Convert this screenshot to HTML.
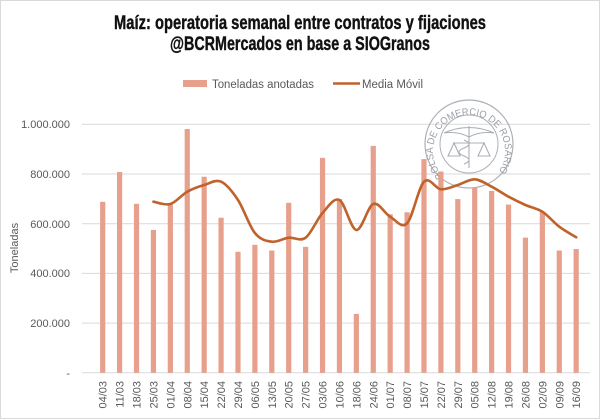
<!DOCTYPE html>
<html><head><meta charset="utf-8"><style>
html,body{margin:0;padding:0;background:#fff}
svg{display:block;font-family:"Liberation Sans",sans-serif}
</style></head><body>
<svg id="s" width="600" height="419" viewBox="0 0 600 419" xmlns="http://www.w3.org/2000/svg">
<rect x="0.5" y="0.5" width="599" height="418" fill="#fff" stroke="#d9d9d9"/>
<text x="300" y="29" text-anchor="middle" font-family="'Liberation Sans Narrow','Liberation Sans',sans-serif" font-weight="bold" font-size="19" textLength="372" lengthAdjust="spacingAndGlyphs" fill="#111" stroke="#111" stroke-width="0.4">Maíz: operatoria semanal entre contratos y fijaciones</text>
<text x="300" y="50" text-anchor="middle" font-family="'Liberation Sans Narrow','Liberation Sans',sans-serif" font-weight="bold" font-size="19" textLength="260" lengthAdjust="spacingAndGlyphs" fill="#111" stroke="#111" stroke-width="0.4">@BCRMercados en base a SIOGranos</text>
<rect x="183" y="80" width="24" height="7" fill="#e6a08b"/>
<text x="212" y="88" font-size="11.5" fill="#595959" textLength="102" lengthAdjust="spacingAndGlyphs">Toneladas anotadas</text>
<line x1="333" y1="83.5" x2="360" y2="83.5" stroke="#c0622b" stroke-width="2.5"/>
<text x="362" y="88" font-size="11.5" fill="#595959" textLength="61" lengthAdjust="spacingAndGlyphs">Media Móvil</text>
<g stroke="#d9d9d9" stroke-width="1">
<line x1="82" y1="124.3" x2="590" y2="124.3"/><line x1="82" y1="174" x2="590" y2="174"/><line x1="82" y1="223.7" x2="590" y2="223.7"/><line x1="82" y1="273.4" x2="590" y2="273.4"/><line x1="82" y1="323.1" x2="590" y2="323.1"/><line x1="82" y1="372.8" x2="590" y2="372.8"/>
</g>
<g font-size="11" fill="#595959" text-anchor="end">
<text x="70" y="128">1.000.000</text><text x="70" y="178">800.000</text><text x="70" y="228">600.000</text><text x="70" y="277">400.000</text><text x="70" y="327">200.000</text><text x="70" y="377">-</text>
</g>
<text transform="translate(18,248) rotate(-90)" text-anchor="middle" font-size="11" fill="#595959">Toneladas</text>
<g id="seal" fill="none" stroke="#9da2aa" opacity="0.85">
<circle cx="469" cy="144" r="44" stroke-width="1.2"/>
<circle cx="469" cy="144" r="29" stroke-width="1"/>
<path id="arc" d="M 443 176 A 36 36 0 1 1 495 176" fill="none" stroke="none"/>
<text font-size="10" fill="#8a8f97" stroke="none"><textPath href="#arc" textLength="162" lengthAdjust="spacingAndGlyphs">BOLSA DE COMERCIO DE ROSARIO</textPath></text>
<path d="M444 133 Q469 122 494 133 Q480 131 469 137 Q458 131 444 133 M469 126 L469 168 M464 140 q10 4 0 8 q-10 4 0 8 q10 4 0 8 M453 143 L485 143 M454 143 l-6 13 h12 z M484 143 l-6 13 h12 z" stroke-width="1.1"/>
</g>
<g id="bars" fill="#e6a08b"></g>
<path id="ma" fill="none" stroke="#c0622b" stroke-width="2.6" stroke-linejoin="round" stroke-linecap="round"/>
<g id="xl" font-size="11" fill="#595959" text-anchor="end"></g>
</svg>
<script>
var vals=[688,808,680,575,679,981,789,624,487,515,492,684,507,865,699,237,913,638,646,860,810,699,746,732,677,544,649,492,498];
var labs=["04/03","11/03","18/03","25/03","01/04","08/04","15/04","22/04","29/04","06/05","13/05","20/05","27/05","03/06","10/06","18/06","24/06","01/07","08/07","15/07","22/07","29/07","05/08","12/08","19/08","26/08","02/09","09/09","16/09"];
var ma=[null,null,null,201.7,204,191.7,185,181.7,200,233,241.7,237.7,237.7,213,200,230,204,216.7,223.3,181.7,189.3,185,179.3,186.7,196.7,205,211.7,226.7,237.3];
var ns="http://www.w3.org/2000/svg",b=document.getElementById("bars"),xl=document.getElementById("xl");
function X(i){return 102.7+i*16.91;}
for(var i=0;i<vals.length;i++){
 var h=vals[i]/200*49.7,r=document.createElementNS(ns,"rect");
 r.setAttribute("x",X(i)-2.6);r.setAttribute("width",5.2);r.setAttribute("y",372.8-h);r.setAttribute("height",h);b.appendChild(r);
 var t=document.createElementNS(ns,"text");t.setAttribute("transform","translate("+(X(i)+4)+",381) rotate(-90)");t.textContent=labs[i];xl.appendChild(t);
}
var p=[];for(i=3;i<ma.length;i++)p.push([X(i),ma[i]]);
var d="M"+p[0][0]+" "+p[0][1];
for(i=0;i<p.length-1;i++){
 var p0=p[Math.max(i-1,0)],p1=p[i],p2=p[i+1],p3=p[Math.min(i+2,p.length-1)];
 d+=" C"+(p1[0]+(p2[0]-p0[0])/6)+" "+(p1[1]+(p2[1]-p0[1])/6)+" "+(p2[0]-(p3[0]-p1[0])/6)+" "+(p2[1]-(p3[1]-p1[1])/6)+" "+p2[0]+" "+p2[1];
}
document.getElementById("ma").setAttribute("d",d);
</script>
</body></html>
